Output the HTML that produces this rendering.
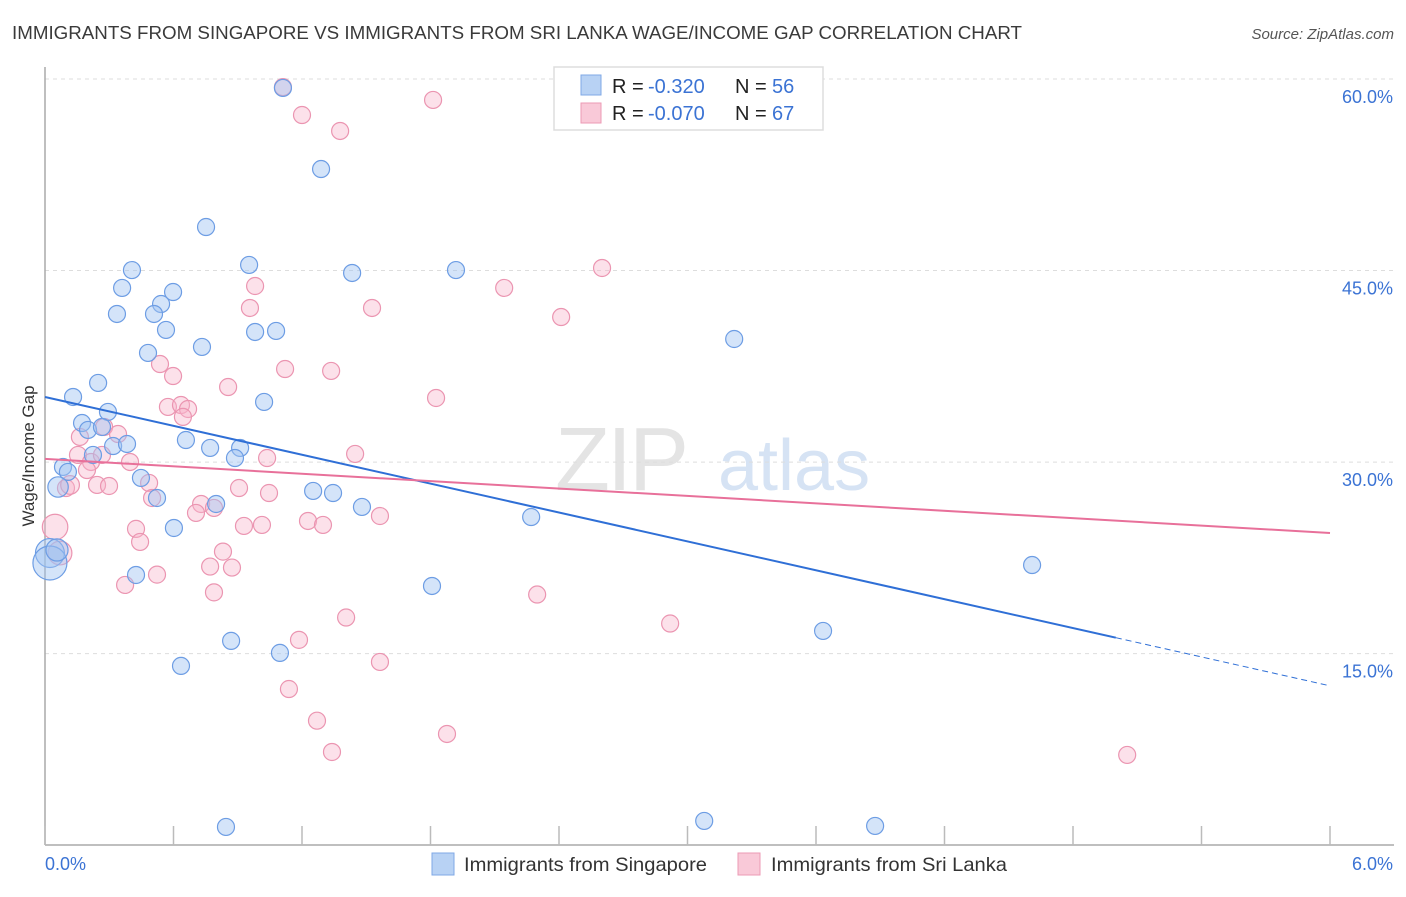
<!DOCTYPE html>
<html><head><meta charset="utf-8"><style>
body{margin:0;background:#fff;font-family:"Liberation Sans",sans-serif}
svg text{font-family:"Liberation Sans",sans-serif}
</style></head><body>
<svg id="chart" width="1406" height="892" xmlns="http://www.w3.org/2000/svg">
<text x="12" y="39" font-size="18" fill="#3a3a3a" textLength="1010" lengthAdjust="spacingAndGlyphs">IMMIGRANTS FROM SINGAPORE VS IMMIGRANTS FROM SRI LANKA WAGE/INCOME GAP CORRELATION CHART</text>
<text x="1394" y="39" font-size="15" font-style="italic" fill="#555" text-anchor="end">Source: ZipAtlas.com</text>
<g>
<text x="555" y="490" font-size="90" font-family="Liberation Serif" fill="#e4e4e4" letter-spacing="-3">ZIP</text>
<text x="718" y="490" font-size="72" fill="#d6e3f4">atlas</text>
</g>
<g id="grid"></g>
<g id="axes"></g>
<g id="pts"></g>
<g id="lines"></g>
<text transform="translate(34,456) rotate(-90)" font-size="17" fill="#333" text-anchor="middle">Wage/Income Gap</text>
<g>
<rect x="554" y="67" width="269" height="63" fill="#fff" stroke="#ddd" stroke-width="1.5"/>
<rect x="581" y="75" width="20" height="20" fill="#b8d2f4" stroke="#7fa8e6"/>
<rect x="581" y="103" width="20" height="20" fill="#f9c9d8" stroke="#ec9ab4"/>
<g font-size="20">
<text x="612" y="93" fill="#222">R =</text><text x="648" y="93" fill="#3b73d4">-0.320</text>
<text x="735" y="93" fill="#222">N =</text><text x="772" y="93" fill="#3b73d4">56</text>
<text x="612" y="120" fill="#222">R =</text><text x="648" y="120" fill="#3b73d4">-0.070</text>
<text x="735" y="120" fill="#222">N =</text><text x="772" y="120" fill="#3b73d4">67</text>
</g>
</g>
<g>
<rect x="432" y="853" width="22" height="22" fill="#b8d2f4" stroke="#7fa8e6"/>
<text x="464" y="871" font-size="19.5" fill="#333" textLength="243" lengthAdjust="spacingAndGlyphs">Immigrants from Singapore</text>
<rect x="738" y="853" width="22" height="22" fill="#f9c9d8" stroke="#ec9ab4"/>
<text x="771" y="871" font-size="19.5" fill="#333" textLength="236" lengthAdjust="spacingAndGlyphs">Immigrants from Sri Lanka</text>
</g>
</svg>
<script>
const yTicks=[15,30,45,60];
const yTickLabels=["15.0%","30.0%","45.0%","60.0%"];
const xTicks=[0,0.6,1.2,1.8,2.4,3.0,3.6,4.2,4.8,5.4,6.0];
const xLabelMin="0.0%", xLabelMax="6.0%";
const sgX=[1.111,1.289,0.752,0.406,0.953,1.434,1.919,0.360,0.598,0.542,0.336,0.509,0.565,0.981,1.079,0.733,0.481,3.218,0.248,0.131,1.023,0.294,0.173,0.201,0.266,0.658,0.318,0.383,0.771,0.911,0.887,0.224,0.084,0.107,0.061,0.448,0.523,1.252,1.345,1.480,0.799,2.270,0.602,0.023,0.023,4.609,0.425,1.807,3.633,0.869,1.097,0.635,0.845,3.078,3.876,0.056];
const sgY=[59.30,52.95,48.41,45.04,45.44,44.81,45.04,43.64,43.32,42.38,41.60,41.60,40.35,40.19,40.27,39.02,38.55,39.64,36.20,35.10,34.71,33.93,33.06,32.52,32.75,31.73,31.26,31.42,31.11,31.11,30.32,30.56,29.62,29.23,28.05,28.76,27.19,27.74,27.58,26.49,26.72,25.70,24.84,22.88,22.10,21.94,21.16,20.30,16.78,16.00,15.06,14.04,1.43,1.90,1.51,23.12];
const sgW=[1,1,1,1,1,1,1,1,1,1,1,1,1,1,1,1,1,1,1,1,1,1,1,1,1,1,1,1,1,1,1,1,1,1,1.2,1,1,1,1,1,1,1,1,1.7,2.0,1,1,1,1,1,1,1,1,1,1,1.3];
const slX=[1.111,1.812,1.200,1.378,2.601,2.144,0.981,0.957,1.527,2.410,0.537,0.598,1.121,1.336,0.855,1.826,0.574,0.635,0.668,0.644,0.163,0.276,0.341,0.154,0.215,0.397,1.037,1.448,0.196,0.098,0.243,0.299,0.486,0.906,1.046,0.500,0.729,0.789,0.705,1.564,1.228,1.298,0.929,1.013,0.047,0.425,0.444,0.831,0.070,0.771,0.873,0.374,0.523,2.298,0.789,1.406,2.919,1.186,1.564,1.139,1.270,1.877,1.340,5.053,0.117,0.266];
const slY=[59.37,58.36,57.18,55.93,45.20,43.64,43.79,42.07,42.07,41.36,37.68,36.74,37.29,37.14,35.88,35.02,34.32,34.47,34.16,33.54,31.97,32.75,32.20,30.56,30.01,30.01,30.32,30.64,29.38,27.97,28.21,28.13,28.37,27.97,27.58,27.19,26.72,26.41,26.02,25.78,25.39,25.08,25.00,25.08,24.92,24.77,23.75,22.99,22.88,21.82,21.74,20.38,21.19,19.63,19.80,17.83,17.36,16.08,14.35,12.23,9.75,8.71,7.30,7.07,28.21,30.56];
const slW=[1,1,1,1,1,1,1,1,1,1,1,1,1,1,1,1,1,1,1,1,1,1,1,1,1,1,1,1,1,1,1,1,1,1,1,1,1,1,1,1,1,1,1,1,1.5,1,1,1,1.4,1,1,1,1,1,1,1,1,1,1,1,1,1,1,1,1.1,1];
const sgTrend=[35.1,-3.77], sgSolidEnd=5.0;
const slTrend=[30.25,-0.967];
const NS="http://www.w3.org/2000/svg";
const X0=45,X1=1330,Y0=845;
const sx=v=>X0+(v/6)*(X1-X0);
const sy=v=>79+(60-v)*12.77;
function mk(tag,attrs,parent){const e=document.createElementNS(NS,tag);for(const k in attrs)e.setAttribute(k,attrs[k]);parent.appendChild(e);return e;}
const grid=document.getElementById('grid'),axes=document.getElementById('axes'),pts=document.getElementById('pts'),lines=document.getElementById('lines');
yTicks.forEach((t,i)=>{
 const l=mk('line',{x1:X0,x2:1394,y1:sy(t),y2:sy(t),stroke:'#ddd','stroke-dasharray':'4,4'},grid);
 
 
 const tx=mk('text',{x:1393,y:sy(t)+24,'font-size':18,fill:'#3b73d4','text-anchor':'end'},axes);
 tx.textContent=yTickLabels[i];
 
 
});
const ax=mk('line',{x1:X0,x2:1394,y1:Y0,y2:Y0,stroke:'#aaa','stroke-width':1.5},axes);


const ay=mk('line',{x1:X0,x2:X0,y1:67,y2:Y0,stroke:'#aaa','stroke-width':1.5},axes);


xTicks.forEach(t=>{
 const l=mk('line',{x1:sx(t),x2:sx(t),y1:Y0,y2:826,stroke:'#bbb','stroke-width':1.5},axes);
 
 
});
const xl0=mk('text',{x:45,y:870,'font-size':18,fill:'#3b73d4'},axes);xl0.textContent=xLabelMin;


const xl1=mk('text',{x:1393,y:870,'font-size':18,fill:'#3b73d4','text-anchor':'end'},axes);xl1.textContent=xLabelMax;


function drawPts(xs,ys,ws,fill,stroke,name){
 xs.forEach((x,i)=>{
  const c=mk('circle',{cx:sx(x),cy:sy(ys[i]),r:8.5*ws[i],fill:fill,stroke:stroke,'stroke-width':1.2},pts);
  
  
 });
}
drawPts(slX,slY,slW,'rgba(247,180,202,0.4)','#eb95b1','point-sri-lanka');
drawPts(sgX,sgY,sgW,'rgba(160,196,242,0.45)','#6d9de4','point-singapore');
const f=(t,x)=>t[0]+t[1]*x;
const b1=mk('line',{x1:sx(0),y1:sy(f(sgTrend,0)),x2:sx(sgSolidEnd),y2:sy(f(sgTrend,sgSolidEnd)),stroke:'#2f6fd6','stroke-width':2},lines);


const b2=mk('line',{x1:sx(sgSolidEnd),y1:sy(f(sgTrend,sgSolidEnd)),x2:sx(6),y2:sy(f(sgTrend,6)),stroke:'#2f6fd6','stroke-width':1,'stroke-dasharray':'6,4'},lines);


const p1=mk('line',{x1:sx(0),y1:sy(f(slTrend,0)),x2:sx(6),y2:sy(f(slTrend,6)),stroke:'#e8709a','stroke-width':2},lines);


</script>
</body></html>
